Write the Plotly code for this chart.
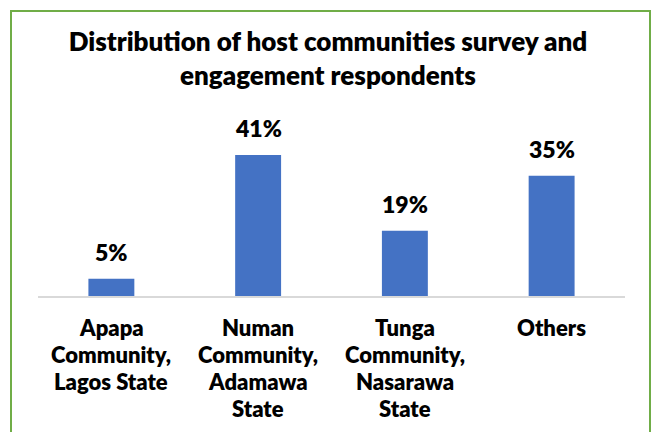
import plotly.graph_objects as go

categories = ["Apapa Community, Lagos State", "Numan Community, Adamawa State",
              "Tunga Community, Nasarawa State", "Others"]
label_lines = [["Apapa", "Community,", "Lagos State"],
               ["Numan", "Community,", "Adamawa", "State"],
               ["Tunga", "Community,", "Nasarawa", "State"],
               ["Others"]]
values = [5, 41, 19, 35]
value_labels = ["5%", "41%", "19%", "35%"]

FONT = "Lato"
WT = 800
W, H = 652, 432
ml, mr, mt, mb = 38, 27, 100, 136
pw, ph = W - ml - mr, H - mt - mb

fig = go.Figure(go.Bar(x=categories, y=values, marker=dict(color="#4472C4", line=dict(width=0)),
                       hoverinfo="skip"))

ann = []
for c, v, t in zip(categories, values, value_labels):
    ann.append(dict(x=c, y=v, xref="x", yref="y", text=t, showarrow=False,
                    yanchor="bottom", yshift=11,
                    font=dict(family=FONT, size=23, color="black", weight=WT)))
for c, lines in zip(categories, label_lines):
    for i, ln in enumerate(lines):
        ann.append(dict(x=c, y=0, xref="x", yref="y", text=ln, showarrow=False,
                        yanchor="middle", yshift=-(31 + 27 * i),
                        font=dict(family=FONT, size=22, color="black", weight=WT)))

def px_x(p):
    return (p - ml) / pw
def px_y(p):
    return (H - mb - p) / ph

fig.update_layout(
    width=W, height=H,
    margin=dict(l=ml, r=mr, t=mt, b=mb),
    paper_bgcolor="white", plot_bgcolor="white",
    title=dict(text="Distribution of host communities survey and<br>engagement respondents",
               x=0.503, xanchor="center", y=1 - 51 / H, yanchor="top",
               font=dict(family=FONT, size=26, color="black", weight=WT)),
    bargap=0.687,
    xaxis=dict(showticklabels=False, ticks="", showline=True, linecolor="#D9D9D9", linewidth=2,
               showgrid=False, zeroline=False, fixedrange=True),
    yaxis=dict(range=[0, 57], visible=False, showgrid=False, zeroline=False),
    annotations=ann,
    shapes=[dict(type="rect", xref="paper", yref="paper",
                 x0=px_x(11), x1=px_x(650), y0=px_y(445), y1=px_y(11),
                 line=dict(color="#70AD47", width=2), fillcolor="rgba(0,0,0,0)", layer="above")],
    showlegend=False,
)

fig.write_html("out.html")
